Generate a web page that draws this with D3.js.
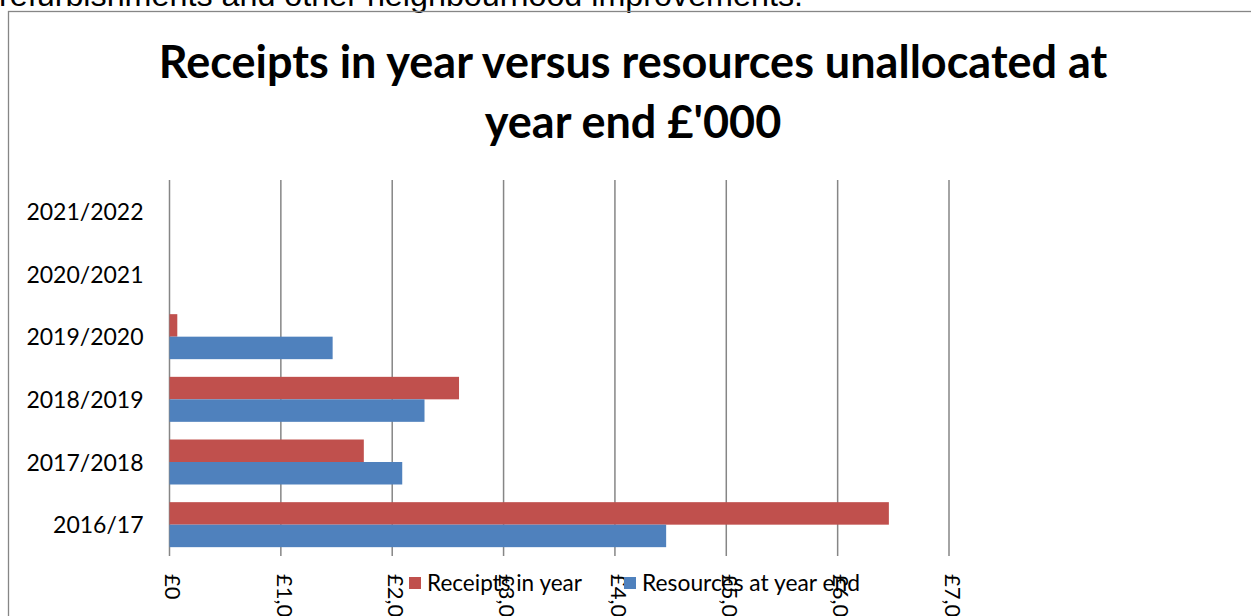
<!doctype html>
<html lang="en">
<head>
  <meta charset="utf-8">
  <title>Receipts in year versus resources unallocated</title>
  <style>
    body { margin: 0; background: #fff; overflow: hidden; }
    svg { display: block; }
    .grid line { stroke: #868686; stroke-width: 1.5px; }
    .tick text { font-family: Lato, sans-serif; font-size: 22px; fill: #000; }
    .cat .tick text { font-size: 23px; }
    .legend text { font-family: Lato, sans-serif; font-size: 22.5px; fill: #000; }
    .title { font-family: Lato, sans-serif; font-weight: bold; font-size: 45px; fill: #000; }
  </style>
</head>
<body>
  <svg id="chart" width="1251" height="616"></svg>
  <script src="https://d3js.org/d3.v7.min.js"></script>
  <script>
    var years = ["2016/17", "2017/2018", "2018/2019", "2019/2020", "2020/2021", "2021/2022"]
    var receipts = [6460, 1745, 2600, 70, 0, 0]
    var resources = [4460, 2090, 2290, 1465, 0, 0]
    var seriesNames = ["Receipts in year", "Resources at year end"]
    var seriesColors = ["#c0504d", "#4f81bd"]
    var xTicks = [0, 1000, 2000, 3000, 4000, 5000, 6000, 7000]
    var titleLines = ["Receipts in year versus resources unallocated at", "year end £'000"]

    var svg = d3.select("#chart")

    // bit of the page text above the chart, cut off at the top
    svg.append("text")
      .attr("x", -1).attr("y", 6)
      .attr("textLength", 804).attr("lengthAdjust", "spacingAndGlyphs")
      .style("font-family", "'Liberation Sans', Arial, sans-serif")
      .style("font-size", "32px")
      .text("refurbishments and other neighbourhood improvements.")

    // chart frame
    svg.append("rect")
      .attr("x", 8.5).attr("y", 11.5)
      .attr("width", 1260).attr("height", 620)
      .attr("fill", "none").attr("stroke", "#868686").attr("stroke-width", 1.3)

    svg.selectAll(".title").data(titleLines).enter()
      .append("text")
      .attr("class", "title")
      .attr("x", 633)
      .attr("y", function(d, i) { return 78 + i * 60 })
      .attr("text-anchor", "middle")
      .text(function(d) { return d })

    var pLeft = 169.5, pRight = 949, pTop = 180, pBottom = 556

    var x = d3.scaleLinear().domain([0, 7000]).range([pLeft, pRight])
    var y = d3.scaleBand().domain(years.slice().reverse()).range([pTop, pBottom]).paddingInner(0.282).paddingOuter(0.141)
    var sub = d3.scaleBand().domain([0, 1]).range([0, y.bandwidth()])

    // gridlines (incl. the zero axis)
    svg.append("g").attr("class", "grid")
      .selectAll("line").data(xTicks).enter()
      .append("line")
      .attr("x1", function(d) { return x(d) }).attr("x2", function(d) { return x(d) })
      .attr("y1", pTop).attr("y2", pBottom)

    var rows = years.map(function(yr, i) { return { year: yr, vals: [receipts[i], resources[i]] } })

    var grp = svg.append("g").selectAll("g").data(rows).enter()
      .append("g")
      .attr("transform", function(d) { return "translate(0," + y(d.year) + ")" })

    grp.selectAll("rect")
      .data(function(d) { return d.vals.map(function(v, i) { return { v: v, i: i } }) })
      .enter().append("rect")
      .attr("x", x(0))
      .attr("y", function(d) { return sub(d.i) })
      .attr("height", sub.bandwidth())
      .attr("width", function(d) { return x(d.v) - x(0) })
      .attr("fill", function(d) { return seriesColors[d.i] })

    // category labels
    var yAxis = d3.axisLeft(y).tickSize(0).tickPadding(26)
    var ya = svg.append("g").attr("class", "cat").attr("transform", "translate(" + pLeft + ",0)").call(yAxis)
    ya.select(".domain").remove()
    ya.selectAll("text").attr("dy", "0.38em")
    ya.attr("font-family", null).attr("font-size", null)

    // rotated value labels
    var fmt = function(d) { return "£" + d3.format(",")(d) }
    var xAxis = d3.axisBottom(x).tickValues(xTicks).tickFormat(fmt).tickSize(0)
    var xa = svg.append("g").attr("transform", "translate(0," + pBottom + ")").call(xAxis)
    xa.select(".domain").remove()
    xa.attr("font-family", null).attr("font-size", null)
    xa.selectAll("text")
      .attr("transform", "rotate(90)")
      .attr("x", 18).attr("y", 0).attr("dy", "0.22em")
      .style("text-anchor", "start")

    // legend
    var lg = svg.append("g").attr("class", "legend")
    var legendX = [409, 624]
    var legendW = [155, 218]
    seriesNames.forEach(function(name, i) {
      lg.append("rect").attr("x", legendX[i]).attr("y", 577).attr("width", 12).attr("height", 12).attr("fill", seriesColors[i])
      lg.append("text").attr("x", legendX[i] + 18).attr("y", 591)
        .attr("textLength", legendW[i]).attr("lengthAdjust", "spacingAndGlyphs")
        .text(name)
    })
  </script>
</body>
</html>
